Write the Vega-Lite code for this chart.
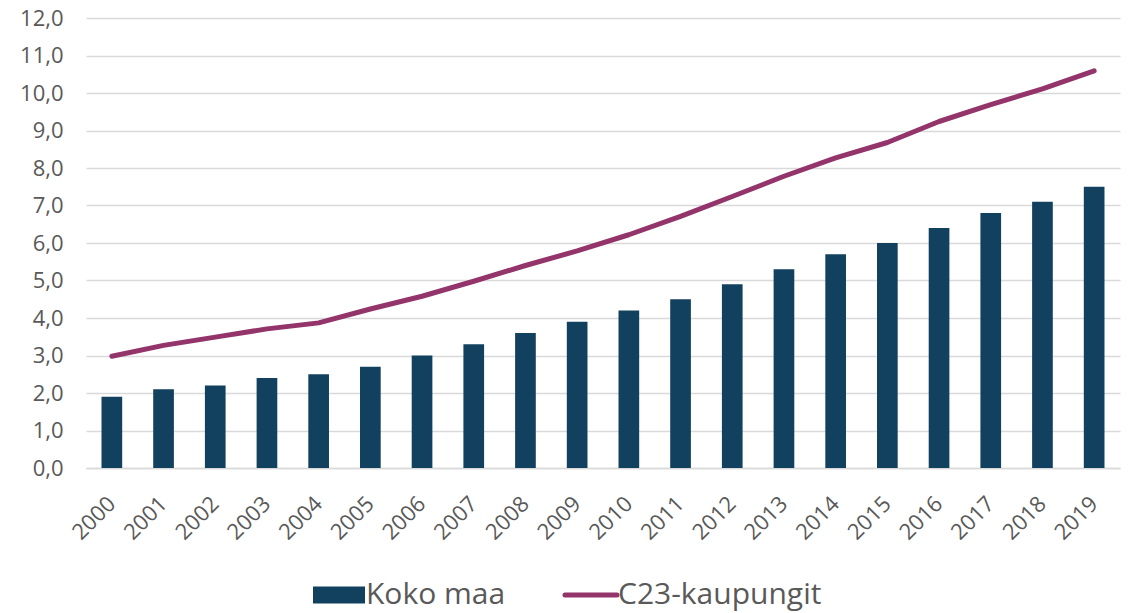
{
  "$schema": "https://vega.github.io/schema/vega-lite/v6.json",
  "width": 1034,
  "height": 450,
  "autosize": {"type": "none"},
  "padding": {"left": 86, "top": 18, "right": 12, "bottom": 145},
  "background": "white",
  "config": {
    "view": {"stroke": null},
    "font": "Open Sans"
  },
  "data": {
    "values": [
      {"year": "2000", "Koko maa": 1.9, "C23-kaupungit": 2.98},
      {"year": "2001", "Koko maa": 2.1, "C23-kaupungit": 3.27},
      {"year": "2002", "Koko maa": 2.2, "C23-kaupungit": 3.49},
      {"year": "2003", "Koko maa": 2.4, "C23-kaupungit": 3.71},
      {"year": "2004", "Koko maa": 2.5, "C23-kaupungit": 3.87},
      {"year": "2005", "Koko maa": 2.7, "C23-kaupungit": 4.24},
      {"year": "2006", "Koko maa": 3.0, "C23-kaupungit": 4.58},
      {"year": "2007", "Koko maa": 3.3, "C23-kaupungit": 4.98},
      {"year": "2008", "Koko maa": 3.6, "C23-kaupungit": 5.40},
      {"year": "2009", "Koko maa": 3.9, "C23-kaupungit": 5.79},
      {"year": "2010", "Koko maa": 4.2, "C23-kaupungit": 6.22},
      {"year": "2011", "Koko maa": 4.5, "C23-kaupungit": 6.71},
      {"year": "2012", "Koko maa": 4.9, "C23-kaupungit": 7.24},
      {"year": "2013", "Koko maa": 5.3, "C23-kaupungit": 7.78},
      {"year": "2014", "Koko maa": 5.7, "C23-kaupungit": 8.27},
      {"year": "2015", "Koko maa": 6.0, "C23-kaupungit": 8.68},
      {"year": "2016", "Koko maa": 6.4, "C23-kaupungit": 9.24},
      {"year": "2017", "Koko maa": 6.8, "C23-kaupungit": 9.69},
      {"year": "2018", "Koko maa": 7.1, "C23-kaupungit": 10.11},
      {"year": "2019", "Koko maa": 7.5, "C23-kaupungit": 10.59}
    ]
  },
  "transform": [
    {"fold": ["Koko maa", "C23-kaupungit"], "as": ["series", "value"]}
  ],
  "encoding": {
    "x": {
      "field": "year",
      "type": "nominal",
      "title": null,
      "scale": {"paddingInner": 0.6, "paddingOuter": 0.3},
      "axis": {
        "labelAngle": -45,
        "labelAlign": "right",
        "labelBaseline": "middle",
        "labelFontSize": 22,
        "labelColor": "#595959",
        "labelPadding": 32,
        "labelOverlap": false,
        "ticks": false,
        "domain": true,
        "domainColor": "#d9d9d9",
        "domainWidth": 1.5,
        "grid": false
      }
    },
    "y": {
      "field": "value",
      "type": "quantitative",
      "title": null,
      "scale": {"domain": [0, 12], "nice": false},
      "axis": {
        "values": [0, 1, 2, 3, 4, 5, 6, 7, 8, 9, 10, 11, 12],
        "tickCount": 20,
        "labelExpr": "replace(format(datum.value, '.1f'), '.', ',')",
        "labelFontSize": 22,
        "labelColor": "#595959",
        "labelPadding": 23,
        "labelOverlap": false,
        "labelBound": false,
        "ticks": false,
        "domain": false,
        "grid": true,
        "gridColor": "#d9d9d9",
        "gridWidth": 1.5
      }
    },
    "color": {
      "field": "series",
      "type": "nominal",
      "sort": ["Koko maa", "C23-kaupungit"],
      "scale": {"domain": ["Koko maa", "C23-kaupungit"], "range": ["#12405f", "#93346a"]},
      "legend": {
        "orient": "none",
        "direction": "horizontal",
        "legendX": 238,
        "legendY": 562,
        "title": null,
        "labelFontSize": 30,
        "labelColor": "#595959",
        "labelLimit": 0,
        "labelOffset": 12,
        "columnPadding": 49,
        "symbolSize": 2704,
        "encode": {
          "symbols": {
            "update": {
              "shape": {"signal": "datum.value === 'Koko maa' ? 'M-1,-0.33H1V0.33H-1Z' : 'M-1,0H1'"},
              "fill": {"signal": "datum.value === 'Koko maa' ? '#12405f' : 'transparent'"},
              "stroke": {"signal": "datum.value === 'Koko maa' ? '#12405f' : '#93346a'"},
              "strokeWidth": {"signal": "datum.value === 'Koko maa' ? 0 : 5"},
              "strokeCap": {"value": "round"},
              "opacity": {"value": 1}
            }
          }
        }
      }
    }
  },
  "layer": [
    {
      "transform": [{"filter": "datum.series === 'Koko maa'"}],
      "mark": {"type": "bar"}
    },
    {
      "transform": [{"filter": "datum.series === 'C23-kaupungit'"}],
      "mark": {"type": "line", "strokeWidth": 5, "strokeCap": "round", "strokeJoin": "round"}
    }
  ]
}
